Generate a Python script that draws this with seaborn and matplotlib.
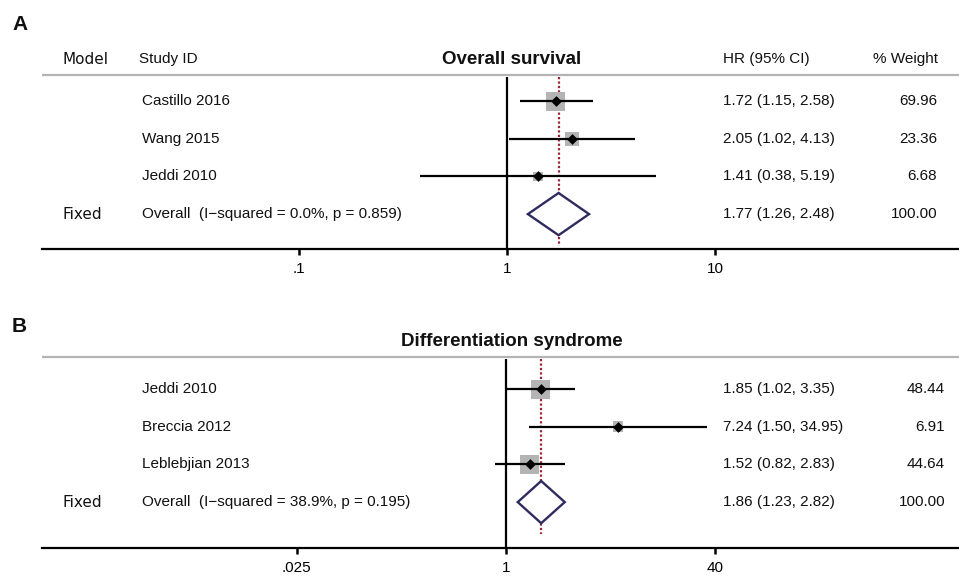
import numpy as np
import pandas as pd
import matplotlib
matplotlib.use("Agg")
import matplotlib.pyplot as plt
import matplotlib.transforms as mtrans
from matplotlib.ticker import FixedLocator, FixedFormatter, NullLocator
import seaborn as sns

# ---------------- data ----------------
a_title = "Overall survival"
a_studies = ["Castillo 2016", "Wang 2015", "Jeddi 2010"]
a_hr = [1.72, 2.05, 1.41]
a_lo = [1.15, 1.02, 0.38]
a_hi = [2.58, 4.13, 5.19]
a_weight = [69.96, 23.36, 6.68]
a_overall = [1.77, 1.26, 2.48]
a_overall_weight = 100.00
a_overall_label = "Overall  (I\u2212squared = 0.0%, p = 0.859)"
a_ticks = [0.1, 1, 10]
a_ticklabels = [".1", "1", "10"]

b_title = "Differentiation syndrome"
b_studies = ["Jeddi 2010", "Breccia 2012", "Leblebjian 2013"]
b_hr = [1.85, 7.24, 1.52]
b_lo = [1.02, 1.50, 0.82]
b_hi = [3.35, 34.95, 2.83]
b_weight = [48.44, 6.91, 44.64]
b_overall = [1.86, 1.23, 2.82]
b_overall_weight = 100.00
b_overall_label = "Overall  (I\u2212squared = 38.9%, p = 0.195)"
b_ticks = [0.025, 1, 40]
b_ticklabels = [".025", "1", "40"]

# ---------------- style ----------------
sns.set_theme(style="white")
plt.rcParams['font.family'] = ['Liberation Sans', 'DejaVu Sans']

W, H = 959, 577
fig = plt.figure(figsize=(W / 100, H / 100), dpi=100)

SP = 37.7          # pixels per row
GRAY = '#b3b3b3'
SQ = '#b4b4b4'
NAVY = '#2e2b5f'
RED = '#9b2335'
FS = 11
TXT = '#111111'


def draw_panel(letter, letter_y, title, studies, hr, lo, hi, weight, overall,
               overall_weight, overall_label, ticks, ticklabels, top_px,
               bottom_px, row0_px, gray_px, header_px, one_px, decade_px,
               weight_right_px, show_header):
    left_px = 42
    ax = fig.add_axes([left_px / W, 1 - bottom_px / H,
                       (W - left_px) / W, (bottom_px - top_px) / H])
    ax.set_xscale('log')
    ax.set_xlim(10 ** ((left_px - one_px) / decade_px),
                10 ** ((W - one_px) / decade_px))
    to_y = lambda p: (p - row0_px) / SP
    ax.set_ylim(to_y(bottom_px), to_y(top_px))
    ax.set_facecolor('none')

    n = len(studies)
    rows = np.arange(n)
    ov_row = n

    df = pd.DataFrame({'study': studies, 'hr': hr, 'lo': lo, 'hi': hi,
                       'w': weight, 'row': rows})
    wmax = max(weight)
    df['side'] = 19 * (df['w'] / wmax) ** 0.3      # square side in px

    # gray header line
    ax.axhline(to_y(gray_px), color=GRAY, lw=1.6, zorder=1)
    # null line
    ax.vlines(1, to_y(gray_px) + 0.06, to_y(bottom_px), color='black',
              lw=1.6, zorder=3)
    # dotted overall line
    ax.vlines(overall[0], to_y(gray_px) + 0.06, ov_row + 0.85, color=RED,
              lw=1.6, linestyles=(0, (1, 1)), zorder=2)

    # weight squares
    ax.scatter(df['hr'], df['row'], marker='s', s=(df['side'] * 0.72) ** 2,
               color=SQ, linewidths=0, zorder=2)
    # CI lines
    ax.hlines(df['row'], df['lo'], df['hi'], color='black', lw=1.6, zorder=4)
    # point estimates
    sns.scatterplot(data=df, x='hr', y='row', marker='D', s=30, color='black',
                    linewidth=0, ax=ax, zorder=5, legend=False)

    # overall diamond
    est, olo, ohi = overall
    hh = 0.56
    ax.fill([olo, est, ohi, est, olo], [ov_row, ov_row - hh, ov_row, ov_row + hh, ov_row],
            facecolor='white', edgecolor=NAVY, lw=1.7, zorder=4)

    # axis styling
    for s in ['left', 'right', 'top']:
        ax.spines[s].set_visible(False)
    ax.spines['bottom'].set_color('black')
    ax.spines['bottom'].set_linewidth(1.6)
    ax.xaxis.set_major_locator(FixedLocator(ticks))
    ax.xaxis.set_major_formatter(FixedFormatter(ticklabels))
    ax.xaxis.set_minor_locator(NullLocator())
    ax.tick_params(axis='x', direction='out', length=4.5, width=1.8,
                   colors='black', labelsize=11, pad=5, bottom=True)
    ax.set_yticks([])
    ax.set_xlabel('')
    ax.set_ylabel('')

    tx = mtrans.blended_transform_factory(fig.transFigure, ax.transData)
    fx = lambda p: p / W

    # texts
    hy = to_y(header_px)
    if show_header:
        ax.text(fx(63), hy, 'Model', transform=tx, ha='left', va='center',
                fontsize=FS, family='DejaVu Sans', color=TXT)
        ax.text(fx(139), hy, 'Study ID', transform=tx, ha='left', va='center',
                fontsize=FS, color=TXT)
        ax.text(fx(723), hy, 'HR (95% CI)', transform=tx, ha='left',
                va='center', fontsize=FS, color=TXT)
        ax.text(fx(938), hy, '% Weight', transform=tx, ha='right',
                va='center', fontsize=FS, color=TXT)
    ax.text(fx(512), hy, title, transform=tx, ha='center', va='center',
            fontsize=13.5, fontweight='bold', color=TXT)

    for _, r in df.iterrows():
        ax.text(fx(142), r['row'], r['study'], transform=tx, ha='left',
                va='center', fontsize=FS, color=TXT)
        ax.text(fx(723), r['row'], f"{r['hr']:.2f} ({r['lo']:.2f}, {r['hi']:.2f})",
                transform=tx, ha='left', va='center', fontsize=FS, color=TXT)
        ax.text(fx(weight_right_px), r['row'], f"{r['w']:.2f}", transform=tx,
                ha='right', va='center', fontsize=FS, color=TXT)
    ax.text(fx(63), ov_row, 'Fixed', transform=tx, ha='left', va='center',
            fontsize=FS, family='DejaVu Sans', color=TXT)
    ax.text(fx(142), ov_row, overall_label, transform=tx, ha='left',
            va='center', fontsize=FS, color=TXT)
    ax.text(fx(723), ov_row, f"{est:.2f} ({olo:.2f}, {ohi:.2f})", transform=tx,
            ha='left', va='center', fontsize=FS, color=TXT)
    ax.text(fx(weight_right_px), ov_row, f"{overall_weight:.2f}", transform=tx,
            ha='right', va='center', fontsize=FS, color=TXT)

    fig.text(12 / W, 1 - letter_y / H, letter, ha='left', va='center',
             fontsize=15, fontweight='bold', color=TXT)
    return ax


draw_panel('A', 25, a_title, a_studies, a_hr, a_lo, a_hi, a_weight, a_overall,
           a_overall_weight, a_overall_label, a_ticks, a_ticklabels,
           top_px=40, bottom_px=249, row0_px=101, gray_px=75, header_px=59,
           one_px=507, decade_px=208, weight_right_px=937, show_header=True)

draw_panel('B', 326, b_title, b_studies, b_hr, b_lo, b_hi, b_weight, b_overall,
           b_overall_weight, b_overall_label, b_ticks, b_ticklabels,
           top_px=330, bottom_px=548, row0_px=389, gray_px=357, header_px=342,
           one_px=506, decade_px=130.5, weight_right_px=945, show_header=False)

fig.savefig('out.png', dpi=100, facecolor='white')
